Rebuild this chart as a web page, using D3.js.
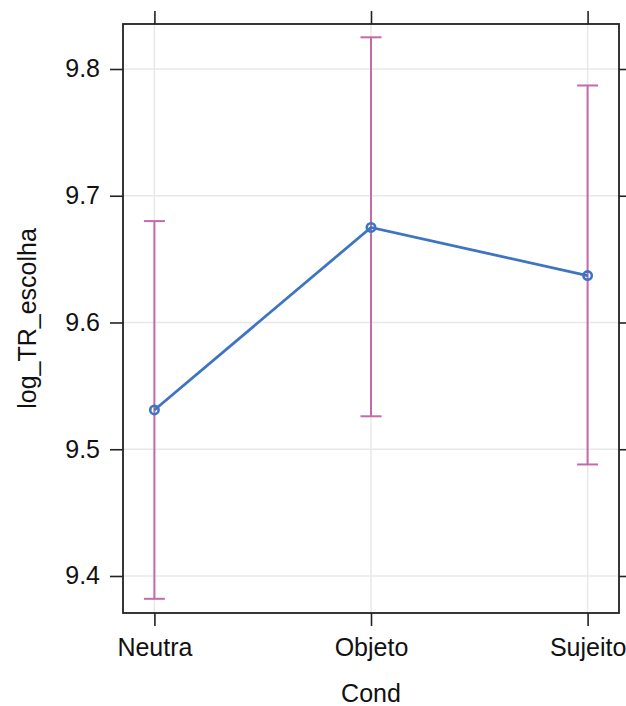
<!DOCTYPE html>
<html>
<head>
<meta charset="utf-8">
<script src="https://cdn.jsdelivr.net/npm/d3@7"></script>
<style>
  body { margin: 0; background: #fff; }
  svg { display: block; font-family: "Liberation Sans", Arial, sans-serif; }
</style>
</head>
<body>
<div id="chart"></div>
<script>
// effect of Cond on log_TR_escolha
const categories = ["Neutra", "Objeto", "Sujeito"];
const fitValues = [9.531, 9.675, 9.637];
const lowerValues = [9.382, 9.526, 9.488];
const upperValues = [9.680, 9.825, 9.787];
const yTicks = [9.4, 9.5, 9.6, 9.7, 9.8];

const w = 626;
const h = 706;
const box = {left: 123, right: 619, top: 24, bottom: 613};

const data = categories.map((c, i) => ({
    cat: c, fit: fitValues[i], lo: lowerValues[i], hi: upperValues[i]
}));

const xScale = d3.scalePoint()
    .domain(categories)
    .range([box.left, box.right])
    .padding(0.145);
const yScale = d3.scaleLinear()
    .domain([9.3708, 9.8355])
    .range([box.bottom, box.top]);

const svg = d3.select("#chart")
    .append("svg")
    .attr("width", w)
    .attr("height", h);

// grid
svg.selectAll("line.hgrid")
   .data(yTicks)
   .enter()
   .append("line")
   .attr("x1", box.left).attr("x2", box.right)
   .attr("y1", d => yScale(d)).attr("y2", d => yScale(d))
   .attr("stroke", "#e8e8e8")
   .attr("stroke-width", 1.5);
svg.selectAll("line.vgrid")
   .data(categories)
   .enter()
   .append("line")
   .attr("x1", d => xScale(d)).attr("x2", d => xScale(d))
   .attr("y1", box.top).attr("y2", box.bottom)
   .attr("stroke", "#e8e8e8")
   .attr("stroke-width", 1.5);

// axes: ticks outside on all four sides
const tickLen = 13;
const axisLeft = d3.axisLeft(yScale).tickValues(yTicks).tickSize(tickLen).tickPadding(10).tickFormat(d3.format(".1f"));
const axisRight = d3.axisRight(yScale).tickValues(yTicks).tickSize(tickLen).tickFormat("");
const axisBottom = d3.axisBottom(xScale).tickSize(tickLen).tickPadding(12);
const axisTop = d3.axisTop(xScale).tickSize(tickLen).tickFormat("");

function styleAxis(g) {
    g.select(".domain").remove();
    g.selectAll(".tick line").attr("stroke", "#222").attr("stroke-width", 1.6);
    g.selectAll(".tick text")
     .attr("fill", "#111")
     .attr("font-size", "25px")
     .attr("font-family", "Liberation Sans, Arial, sans-serif");
}

svg.append("g").attr("transform", `translate(${box.left},0)`).call(axisLeft).call(styleAxis);
svg.append("g").attr("transform", `translate(${box.right},0)`).call(axisRight).call(styleAxis);
svg.append("g").attr("transform", `translate(0,${box.bottom})`).call(axisBottom).call(styleAxis);
svg.append("g").attr("transform", `translate(0,${box.top})`).call(axisTop).call(styleAxis);

// panel box
svg.append("rect")
   .attr("x", box.left).attr("y", box.top)
   .attr("width", box.right - box.left)
   .attr("height", box.bottom - box.top)
   .attr("fill", "none")
   .attr("stroke", "#222")
   .attr("stroke-width", 1.8);

// error bars
const barColor = "#c46aa8";
const capHalf = 10.5;
const bars = svg.append("g");
bars.selectAll("line.ci")
    .data(data)
    .enter()
    .append("line")
    .attr("x1", d => xScale(d.cat)).attr("x2", d => xScale(d.cat))
    .attr("y1", d => yScale(d.lo)).attr("y2", d => yScale(d.hi))
    .attr("stroke", barColor)
    .attr("stroke-width", 2);
bars.selectAll("line.capHi")
    .data(data)
    .enter()
    .append("line")
    .attr("x1", d => xScale(d.cat) - capHalf).attr("x2", d => xScale(d.cat) + capHalf)
    .attr("y1", d => yScale(d.hi)).attr("y2", d => yScale(d.hi))
    .attr("stroke", barColor)
    .attr("stroke-width", 2);
bars.selectAll("line.capLo")
    .data(data)
    .enter()
    .append("line")
    .attr("x1", d => xScale(d.cat) - capHalf).attr("x2", d => xScale(d.cat) + capHalf)
    .attr("y1", d => yScale(d.lo)).attr("y2", d => yScale(d.lo))
    .attr("stroke", barColor)
    .attr("stroke-width", 2);

// fitted line and points
const lineColor = "#3d74c3";
const line = d3.line()
    .x(d => xScale(d.cat))
    .y(d => yScale(d.fit));
svg.append("path")
   .datum(data)
   .attr("d", line)
   .attr("fill", "none")
   .attr("stroke", lineColor)
   .attr("stroke-width", 2.8);
svg.selectAll("circle")
   .data(data)
   .enter()
   .append("circle")
   .attr("cx", d => xScale(d.cat))
   .attr("cy", d => yScale(d.fit))
   .attr("r", 4.2)
   .attr("fill", "none")
   .attr("stroke", lineColor)
   .attr("stroke-width", 2.6);

// axis titles
svg.append("text")
   .attr("x", (box.left + box.right) / 2)
   .attr("y", 702)
   .attr("text-anchor", "middle")
   .attr("font-size", "25px")
   .attr("fill", "#111")
   .text("Cond");
svg.append("text")
   .attr("transform", `translate(36,${(box.top + box.bottom) / 2}) rotate(-90)`)
   .attr("text-anchor", "middle")
   .attr("font-size", "25px")
   .attr("fill", "#111")
   .text("log_TR_escolha");
</script>
</body>
</html>
